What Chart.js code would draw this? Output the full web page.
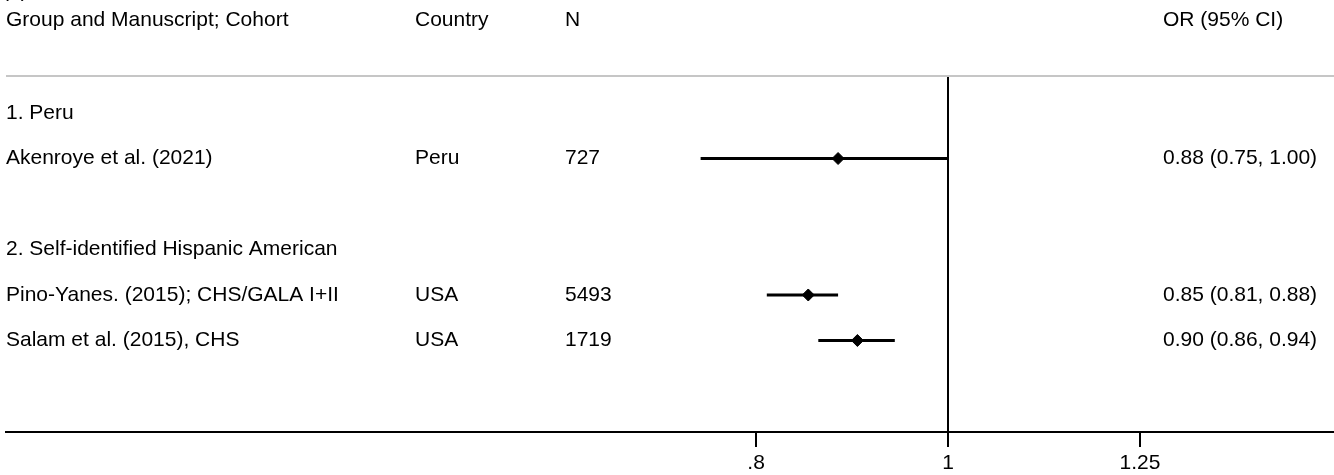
<!DOCTYPE html>
<html>
<head>
<meta charset="utf-8">
<script src="https://cdn.jsdelivr.net/npm/chart.js@4"></script>
<style>
  body { margin: 0; background: #fff; }
</style>
</head>
<body>
<canvas id="canvas" width="1334" height="475"></canvas>
<script>
const headers = ['Group and Manuscript; Cohort', 'Country', 'N', 'OR (95% CI)']
const groups = ['1. Peru', '2. Self-identified Hispanic American']
const studies = ['Akenroye et al. (2021)', 'Pino-Yanes. (2015); CHS/GALA I+II', 'Salam et al. (2015), CHS']
const studyGroup = [0, 1, 1]
const countries = ['Peru', 'USA', 'USA']
const sampleSizes = [727, 5493, 1719]
const oddsRatios = [0.88, 0.85, 0.90]
const lowerCI = [0.75, 0.81, 0.86]
const upperCI = [1.00, 0.88, 0.94]
const xTicks = [0.8, 1, 1.25]

// work out which row every group title and study sits on
const groupRow = []
const studyRow = []
let row = 1
groups.forEach((g, gi) => {
    groupRow.push(row)
    row++
    studies.forEach((s, i) => {
        if (studyGroup[i] == gi) {
            studyRow[i] = row
            row++
        }
    })
    row++
})

const colX = [6, 415, 565, 1163]
const fontFamily = "'Liberation Sans', Arial, sans-serif"
const font = "21px " + fontFamily

const fmt = (v) => v.toFixed(2)

const textPlugin = {
    id: 'forestText',
    afterDraw(chart) {
        const ctx = chart.ctx
        const y = chart.scales.y
        const area = chart.chartArea
        ctx.save()
        // light rule under the header
        ctx.strokeStyle = '#c6c6c6'
        ctx.lineWidth = 2
        ctx.beginPath()
        ctx.moveTo(area.left, area.top)
        ctx.lineTo(area.right, area.top)
        ctx.stroke()

        ctx.fillStyle = '#000'
        ctx.font = font
        ctx.textBaseline = 'middle'
        ctx.textAlign = 'left'
        ctx.fillText('(a)', 2, -9)
        const hy = y.getPixelForValue(-1.04)
        headers.forEach((h, i) => ctx.fillText(h, colX[i], hy))
        groups.forEach((g, gi) => ctx.fillText(g, colX[0], y.getPixelForValue(groupRow[gi])))
        studies.forEach((s, i) => {
            const py = y.getPixelForValue(studyRow[i])
            ctx.fillText(s, colX[0], py)
            ctx.fillText(countries[i], colX[1], py)
            ctx.fillText(String(sampleSizes[i]), colX[2], py)
            ctx.fillText(fmt(oddsRatios[i]) + ' (' + fmt(lowerCI[i]) + ', ' + fmt(upperCI[i]) + ')', colX[3], py)
        })
        ctx.restore()
    }
}

const ciSets = studies.map((s, i) => ({
    type: 'line',
    label: s,
    data: [{x: lowerCI[i], y: studyRow[i]}, {x: upperCI[i], y: studyRow[i]}],
    borderColor: '#000',
    borderWidth: 3,
    pointRadius: 0,
    fill: false
}))

const pointSet = {
    type: 'scatter',
    label: 'OR',
    data: studies.map((s, i) => ({x: oddsRatios[i], y: studyRow[i]})),
    pointStyle: 'rectRot',
    pointRadius: 6,
    backgroundColor: '#000',
    borderColor: '#000',
    borderWidth: 1
}

const ctx = document.getElementById('canvas')
new Chart(ctx, {
    type: 'scatter',
    data: { datasets: [...ciSets, pointSet] },
    plugins: [textPlugin],
    options: {
        responsive: false,
        animation: false,
        events: [],
        layout: { autoPadding: false, padding: { top: 76, left: 6, right: 0, bottom: 0 } },
        plugins: { legend: { display: false }, tooltip: { enabled: false } },
        scales: {
            x: {
                type: 'logarithmic',
                bounds: 'data',
                min: 0.3344,
                max: 1.5665,
                afterBuildTicks: (scale) => {
                    scale.ticks = xTicks.map((v) => ({value: v}))
                },
                afterFit: (scale) => { scale.height = 43 },
                ticks: {
                    autoSkip: false,
                    maxRotation: 0,
                    padding: 4,
                    color: '#000',
                    font: { family: fontFamily, size: 21 },
                    callback: (v) => v == 0.8 ? '.8' : String(v)
                },
                grid: {
                    drawOnChartArea: true,
                    color: (c) => c.tick && c.tick.value == 1 ? '#000' : 'rgba(0,0,0,0)',
                    lineWidth: 2,
                    tickColor: '#000',
                    tickLength: 15,
                    tickWidth: 2
                },
                border: { display: true, color: '#000', width: 2 }
            },
            y: {
                type: 'linear',
                reverse: true,
                min: 0.1868,
                max: 8.011,
                display: false
            }
        }
    }
})
</script>
</body>
</html>
